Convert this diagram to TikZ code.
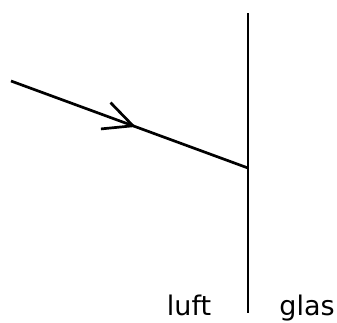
\documentclass[tikz,border=0pt]{standalone}
\usepackage{fontspec}
\setmainfont{DejaVu Sans}
\usetikzlibrary{arrows.meta,decorations.markings}
\begin{document}
\begin{tikzpicture}[
  x=1pt, y=-1pt,
  boundary/.style={line width=2.7pt},
  ray/.style={line width=2.7pt, postaction={decorate},
    decoration={markings, mark=at position 0.527 with {\arrow{Straight Barb[length=29pt,width=28pt]}}}},
  medium/.style={font=\fontsize{27}{31}\selectfont, inner sep=0pt, anchor=base}
]
  \useasboundingbox (0,0) rectangle (337,322);
  % Grenzflaeche
  \coordinate (top) at (248,13);
  \coordinate (bottom) at (248,313);
  \coordinate (hit) at (248,168);
  \coordinate (start) at (11,81);
  \draw[boundary] (top) -- (bottom);
  % einfallender Strahl
  \draw[ray] (start) -- (hit);
  % Medien
  \node[medium] (luft) at (189,315) {luft};
  \node[medium] (glas) at (307,315) {glas};
\end{tikzpicture}
\end{document}
